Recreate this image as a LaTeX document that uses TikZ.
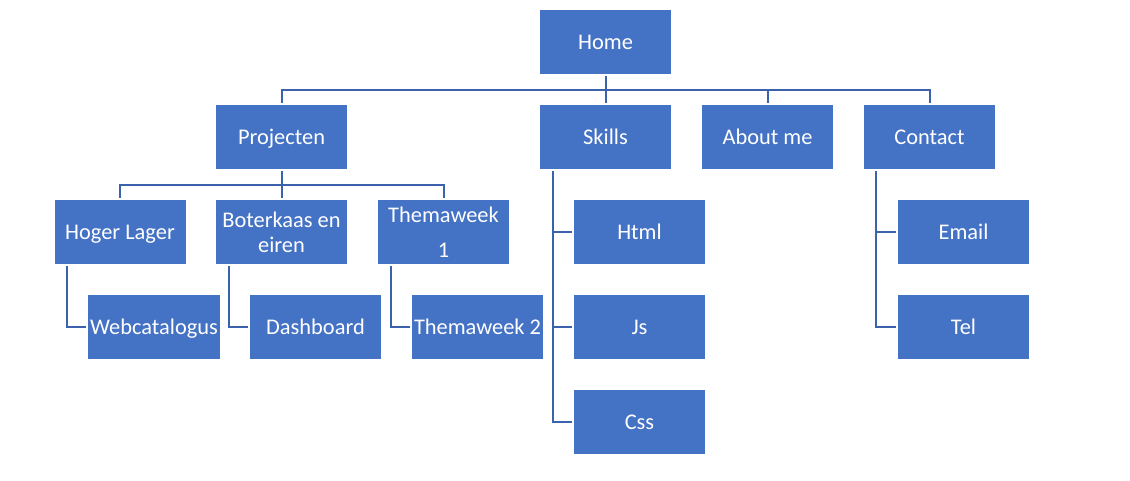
\documentclass[tikz,border=0pt]{standalone}
\usepackage{fontspec}
\setmainfont{Carlito}
\usetikzlibrary{calc}
\definecolor{boxblue}{HTML}{4472C4}
\definecolor{lineblue}{HTML}{3A62AD}
\begin{document}
\begin{tikzpicture}[x=0.5pt,y=-0.5pt,
  box/.style={fill=boxblue,draw=none,text=white,minimum width=65.5pt,minimum height=32pt,
    inner sep=1pt,outer sep=1.2pt,align=center,font=\fontsize{11.2pt}{12.5pt}\selectfont},
  one/.style={text height=9pt,text depth=1.4pt},
  conn/.style={draw=lineblue,line width=1pt}]
\useasboundingbox (0,0) rectangle (1130,481);
\node[box,one] (home) at (605.5,42) {Home};
\node[box,one] (proj) at (281.5,137) {Projecten};
\node[box,one] (skills) at (605.5,137) {Skills};
\node[box,one] (about) at (767.5,137) {About me};
\node[box,one] (contact) at (929.5,137) {Contact};
\node[box,one] (hoger) at (120,232) {Hoger Lager};
\node[box] (boter) at (281.5,232) {Boterkaas en\\eiren};
\node[box,font=\fontsize{11.2pt}{17.5pt}\selectfont] (thema1) at (443.5,232) {Themaweek\\1};
\node[box,one] (web) at (154,327) {Webcatalogus};
\node[box,one] (dash) at (315.5,327) {Dashboard};
\node[box,one] (thema2) at (477.5,327) {Themaweek 2};
\node[box,one] (html) at (639.5,232) {Html};
\node[box,one] (js) at (639.5,327) {Js};
\node[box,one] (css) at (639.5,422) {Css};
\node[box,one] (email) at (963.5,232) {Email};
\node[box,one] (tel) at (963.5,327) {Tel};
% level 1
\coordinate (bar1) at (605.5,90);
\draw[conn] (home.south) -- (bar1);
\draw[conn] (proj.north) |- (bar1) -| (contact.north);
\draw[conn] (skills.north) -- (skills.north |- bar1);
\draw[conn] (about.north) -- (about.north |- bar1);
% projecten
\coordinate (bar2) at (281.5,184.5);
\draw[conn] (proj.south) -- (bar2);
\draw[conn] (hoger.north) |- (bar2) -| (thema1.north);
\draw[conn] (boter.north) -- (boter.north |- bar2);
% sub children
\coordinate (h1) at (66.7,266);
\draw[conn] (h1) |- (web.west);
\coordinate (b1) at (228.7,266);
\draw[conn] (b1) |- (dash.west);
\coordinate (t1) at (390.7,266);
\draw[conn] (t1) |- (thema2.west);
% skills
\coordinate (s1) at (552.5,171);
\draw[conn] (s1) |- (css.west);
\draw[conn] (s1 |- html.west) -- (html.west);
\draw[conn] (s1 |- js.west) -- (js.west);
% contact
\coordinate (c1) at (876,171);
\draw[conn] (c1) |- (tel.west);
\draw[conn] (c1 |- email.west) -- (email.west);
\end{tikzpicture}
\end{document}
